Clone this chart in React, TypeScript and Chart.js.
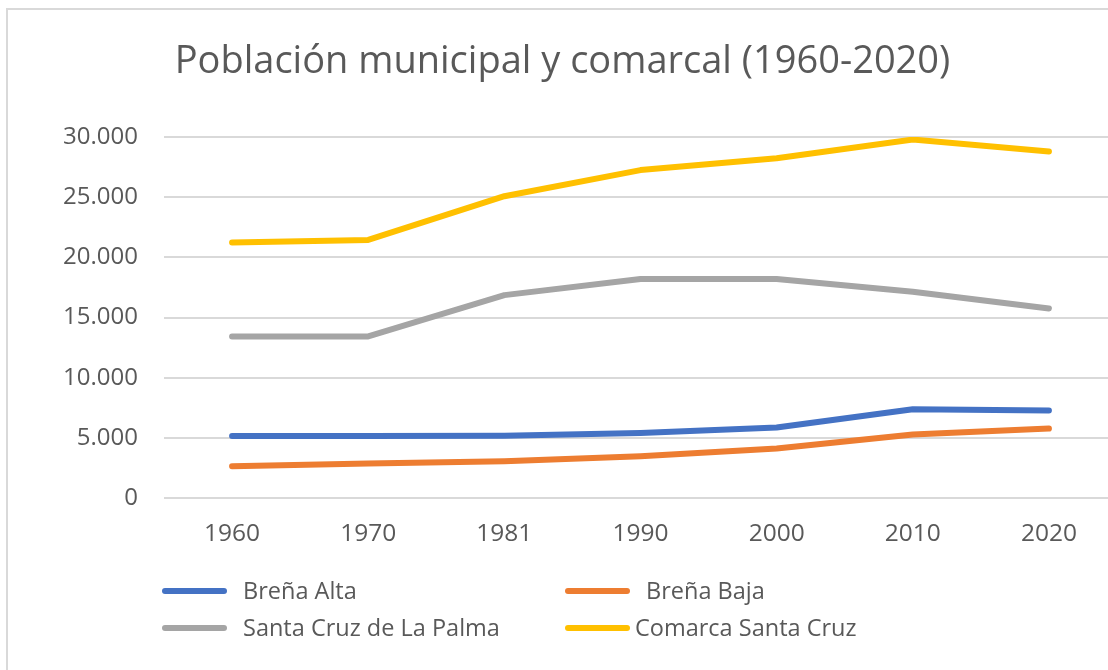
import React, { useEffect, useRef } from "react";
import { Chart, registerables } from "chart.js";

Chart.register(...registerables);

const years = ["1960", "1970", "1981", "1990", "2000", "2010", "2020"];
const brenaAlta = [5160, 5160, 5170, 5400, 5860, 7380, 7270];
const brenaBaja = [2640, 2860, 3050, 3470, 4110, 5270, 5770];
const santaCruzPalma = [13430, 13430, 16860, 18200, 18200, 17140, 15750];
const comarcaSantaCruz = [21230, 21450, 25080, 27250, 28230, 29790, 28790];
const seriesNames = ["Breña Alta", "Breña Baja", "Santa Cruz de La Palma", "Comarca Santa Cruz"];
const seriesColors = ["#4472C4", "#ED7D31", "#A5A5A5", "#FFC000"];
const titleText = "Población municipal y comarcal (1960-2020)";

const FONT = "'Open Sans', 'DejaVu Sans', sans-serif";
const TEXT = "#595959";

const fmt = (v: number) => String(Math.round(v)).replace(/\B(?=(\d{3})+(?!\d))/g, ".");

const legendPlugin = {
  id: "gridLegend",
  afterDraw(chart: any) {
    const ctx = chart.ctx;
    const area = chart.chartArea;
    const rows = [area.bottom + 93, area.bottom + 130];
    const cols = [area.left - 2, area.left + 401];
    ctx.save();
    ctx.font = `23.5px ${FONT}`;
    ctx.fillStyle = TEXT;
    ctx.textBaseline = "middle";
    ctx.lineCap = "round";
    ctx.lineWidth = 6;
    chart.data.datasets.forEach((ds: any, i: number) => {
      const r = Math.floor(i / 2);
      const c = i % 2;
      const x = cols[c];
      const y = rows[r];
      ctx.strokeStyle = ds.borderColor;
      ctx.beginPath();
      ctx.moveTo(x + 3, y);
      ctx.lineTo(x + 62, y);
      ctx.stroke();
      const tx = i === 3 ? x + 70 : x + 81;
      ctx.fillText(ds.label, tx, y + 1);
    });
    ctx.restore();
  },
};

export default function App() {
  const ref = useRef<HTMLCanvasElement>(null);
  useEffect(() => {
    document.body.style.overflow = "hidden";
    const data = [brenaAlta, brenaBaja, santaCruzPalma, comarcaSantaCruz];
    const chart = new Chart(ref.current!, {
      type: "line",
      data: {
        labels: years,
        datasets: data.map((d, i) => ({
          label: seriesNames[i],
          data: d,
          borderColor: seriesColors[i],
          backgroundColor: seriesColors[i],
          borderWidth: 6,
          pointRadius: 0,
          tension: 0,
          borderCapStyle: "round" as const,
          borderJoinStyle: "round" as const,
          fill: false,
        })),
      },
      options: {
        animation: false,
        responsive: false,
        layout: { padding: { left: 0, right: 3, top: 0, bottom: 120 } },
        plugins: {
          legend: { display: false },
          tooltip: { enabled: false },
          title: {
            display: true,
            text: titleText,
            color: TEXT,
            font: { family: FONT, size: 38, weight: "normal" as const },
            padding: { top: 29, bottom: 52.4 },
          },
        },
        scales: {
          x: {
            offset: true,
            grid: { display: false, drawTicks: false },
            border: { display: false },
            ticks: {
              color: TEXT,
              font: { family: FONT, size: 24.5 },
              padding: 21,
              maxRotation: 0,
            },
            afterFit: (s: any) => {
              s.height = 52;
            },
          },
          y: {
            min: 0,
            max: 30000,
            grid: { color: "#d9d9d9", lineWidth: 2, drawTicks: false },
            border: { display: false },
            ticks: {
              stepSize: 5000,
              color: TEXT,
              font: { family: FONT, size: 24 },
              padding: 26,
              callback: (v: any) => fmt(Number(v)),
            },
            afterFit: (s: any) => {
              s.width = 156;
            },
          },
        },
      },
      plugins: [legendPlugin],
    });
    return () => chart.destroy();
  }, []);
  return (
    <div
      style={{
        position: "absolute",
        left: 6,
        top: 8,
        width: 1140,
        height: 680,
        borderTop: "2px solid #d9d9d9",
        borderLeft: "2px solid #d9d9d9",
        background: "#fff",
      }}
    >
      <canvas ref={ref} width={1112} height={660} style={{ display: "block" }} />
    </div>
  );
}
